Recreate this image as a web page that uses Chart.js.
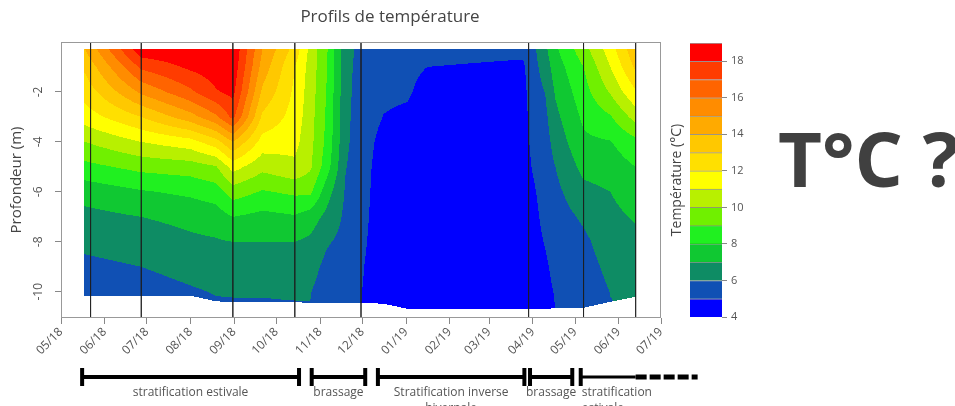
<!DOCTYPE html>
<html lang="fr">
<head>
<meta charset="utf-8">
<script src="https://cdn.jsdelivr.net/npm/chart.js@4.4.1/dist/chart.umd.min.js"></script>
<style>
  body { margin: 0; width: 955px; height: 406px; overflow: hidden; position: relative; background: #fff; }
  #graphique { position: absolute; left: 0; top: 0; }
  #echelle { position: absolute; left: 640px; top: 0; }
  #question { position: absolute; left: 778px; top: 120px; font: bold 76px 'Open Sans', sans-serif; color: #404040; line-height: 1; white-space: nowrap; }
</style>
</head>
<body>
<canvas id="graphique" width="780" height="406"></canvas>
<canvas id="echelle" width="140" height="406"></canvas>
<div id="question">T°C ?</div>
<script>
// axe des mois
const etiquettesMois = ['05/18', '06/18', '07/18', '08/18', '09/18', '10/18', '11/18', '12/18',
                        '01/19', '02/19', '03/19', '04/19', '05/19', '06/19', '07/19'];
const graduationsProfondeur = [-2, -4, -6, -8, -10];

// profondeurs des mesures (m)
const profondeurs = [0.3, 1, 2, 3, 4, 5, 6, 7, 8, 9, 10, 10.7];

// dates des profils
const datesProfils = ['2018-05-18', '2018-06-27', '2018-08-01', '2018-08-19', '2018-08-31', '2018-09-21',
                      '2018-10-14', '2018-10-25', '2018-11-06', '2018-11-19', '2018-11-30', '2018-12-16',
                      '2019-01-02', '2019-01-16', '2019-03-25', '2019-03-31', '2019-04-10', '2019-04-17',
                      '2019-05-07', '2019-05-26', '2019-06-13'];

// températures (°C) par profil, de la surface vers le fond
const p180518 = [14.0, 13.2, 12.4, 11.5, 10.0, 8.7, 7.4, 6.7, 6.2, 5.8, 5.5, 5.3];
const p180627 = [18.7, 17.2, 15.2, 13.0, 11.0, 9.3, 7.9, 7.0, 6.4, 6.0, 5.6, 5.4];
const p180801 = [18.8, 18.2, 16.8, 14.6, 11.6, 9.5, 8.2, 7.3, 6.8, 6.3, 5.9, 5.7];
const p180819 = [18.9, 18.6, 17.9, 15.8, 12.6, 9.9, 8.5, 7.5, 6.9, 6.4, 6.05, 5.85];
const p180831 = [18.9, 18.7, 18.3, 17.3, 14.0, 11.4, 9.5, 8.0, 7.0, 6.5, 6.05, 5.9];
const p180921 = [15.0, 14.6, 13.8, 12.8, 11.6, 10.3, 8.9, 7.7, 7.0, 6.5, 6.05, 5.9];
const p181014 = [12.6, 12.0, 11.8, 11.6, 11.3, 10.8, 9.2, 7.9, 7.0, 6.6, 6.1, 5.9];
const p181025 = [10.7, 10.6, 10.5, 10.4, 10.3, 10.15, 9.2, 7.5, 6.8, 6.4, 6.05, 5.95];
const p181106 = [9.05, 9.0, 8.9, 8.8, 8.7, 8.4, 7.4, 6.7, 6.1, 5.7, 5.4, 5.3];
const p181119 = [6.4, 6.35, 6.3, 6.25, 6.2, 6.05, 5.9, 5.8, 5.7, 5.6, 5.5, 5.4];
const p181130 = [5.7, 5.6, 5.55, 5.5, 5.45, 5.4, 5.35, 5.3, 5.2, 5.1, 5.03, 5.0];
const p181216 = [5.3, 5.25, 5.15, 4.98, 4.7, 4.55, 4.5, 4.45, 4.45, 4.4, 4.4, 4.4];
const p190102 = [5.3, 5.2, 5.1, 4.85, 4.6, 4.5, 4.45, 4.4, 4.4, 4.4, 4.35, 4.35];
const p190116 = [5.3, 5.0, 4.7, 4.55, 4.5, 4.45, 4.4, 4.4, 4.35, 4.35, 4.3, 4.3];
const p190325 = [5.2, 4.85, 4.7, 4.6, 4.55, 4.5, 4.45, 4.4, 4.4, 4.4, 4.35, 4.35];
const p190331 = [5.6, 5.5, 5.4, 5.3, 5.15, 5.0, 4.85, 4.75, 4.7, 4.65, 4.6, 4.6];
const p190410 = [6.8, 6.5, 6.05, 5.8, 5.6, 5.45, 5.3, 5.2, 5.05, 4.9, 4.8, 4.75];
const p190417 = [7.8, 7.5, 7.1, 6.75, 6.4, 6.0, 5.75, 5.55, 5.35, 5.2, 5.05, 5.0];
const p190507 = [9.6, 9.0, 8.6, 8.2, 7.8, 7.3, 6.7, 6.15, 5.8, 5.6, 5.4, 5.3];
const p190526 = [11.5, 11.0, 10.1, 8.9, 7.95, 7.5, 7.0, 6.75, 6.5, 6.25, 6.02, 5.95];
const p190613 = [13.8, 13.2, 11.9, 10.4, 8.7, 8.0, 7.5, 7.1, 6.75, 6.45, 6.15, 6.1];
const profils = [p180518, p180627, p180801, p180819, p180831, p180921, p181014, p181025, p181106,
                 p181119, p181130, p181216, p190102, p190116, p190325, p190331, p190410, p190417,
                 p190507, p190526, p190613];

// profondeur du fond à chaque profil (m)
const fonds = [10.16, 10.16, 10.16, 10.38, 10.42, 10.42, 10.42, 10.44, 10.44, 10.44, 10.44, 10.48,
               10.68, 10.68, 10.68, 10.68, 10.68, 10.66, 10.64, 10.4, 10.2];

// traits verticaux des campagnes de mesure
const datesCampagnes = ['2018-05-22', '2018-06-27', '2018-08-31', '2018-10-14', '2018-11-30',
                        '2019-03-29', '2019-05-07', '2019-06-13'];

// échelle de couleur
const niveaux = [4, 5, 6, 7, 8, 9, 10, 11, 12, 13, 14, 15, 16, 17, 18, 19];
const graduationsCouleur = [4, 6, 8, 10, 12, 14, 16, 18];
const couleurs = ['#0000ff', '#1050b4', '#0e8c64', '#10c832', '#20f020', '#70f000', '#b8f000', '#ffff00',
                  '#ffe000', '#ffc800', '#ffaa00', '#ff8c00', '#ff6400', '#ff3c00', '#ff0000'];

// périodes sous le graphique
const periodes = [['stratification estivale'], ['brassage'], ['Stratification inverse', 'hivernale'],
                  ['brassage'], ['stratification', 'estivale']];
const debutsPeriodes = ['2018-05-16', '2018-10-26', '2018-12-12', '2019-03-30', '2019-05-05'];
const finsPeriodes = ['2018-10-17', '2018-12-03', '2019-03-26', '2019-04-29', '2019-06-13'];
const suitePeriode = '2019-07-27';

const origine = Date.UTC(2018, 4, 1);
function jour(s) {
    const [a, m, j] = s.split('-').map(Number);
    return (Date.UTC(a, m - 1, j) - origine) / 86400000;
}
const debutsMois = etiquettesMois.map(e => jour('20' + e.slice(3) + '-' + e.slice(0, 2) + '-01'));
const joursProfils = datesProfils.map(jour);
const rgbCouleurs = couleurs.map(c => [1, 3, 5].map(k => parseInt(c.slice(k, k + 2), 16)));

const gris = '#555';
const police = "'Open Sans', 'Liberation Sans', sans-serif";

function classe(t) {
    let n = 0;
    while (n < couleurs.length - 1 && t >= niveaux[n + 1]) n++;
    return n;
}

const pluginContour = {
    id: 'contour',
    beforeDatasetsDraw(chart) {
        const {ctx, scales: {x, y}} = chart;
        const J = joursProfils;
        const xa = Math.floor(x.getPixelForValue(J[0]));
        const xb = Math.ceil(x.getPixelForValue(J[J.length - 1]));
        const ya = Math.floor(y.getPixelForValue(-profondeurs[0]));
        const yb = Math.ceil(y.getPixelForValue(-Math.max(...fonds)));
        const w = xb - xa, h = yb - ya;
        const img = ctx.createImageData(w, h);
        for (let c = 0; c < w; c++) {
            const j = x.getValueForPixel(xa + c + 0.5);
            let i = 0;
            while (i < J.length - 2 && j > J[i + 1]) i++;
            const t = Math.min(1, Math.max(0, (j - J[i]) / (J[i + 1] - J[i])));
            const fond = fonds[i] + (fonds[i + 1] - fonds[i]) * t;
            const A = profils[i], B = profils[i + 1];
            for (let r = 0; r < h; r++) {
                const p = -y.getValueForPixel(ya + r + 0.5);
                if (p < profondeurs[0] || p > fond) continue;
                let k = 0;
                while (k < profondeurs.length - 2 && p > profondeurs[k + 1]) k++;
                const u = Math.min(1, (p - profondeurs[k]) / (profondeurs[k + 1] - profondeurs[k]));
                const T = (A[k] * (1 - u) + A[k + 1] * u) * (1 - t) + (B[k] * (1 - u) + B[k + 1] * u) * t;
                const rgb = rgbCouleurs[classe(T)];
                const o = (r * w + c) * 4;
                img.data[o] = rgb[0];
                img.data[o + 1] = rgb[1];
                img.data[o + 2] = rgb[2];
                img.data[o + 3] = 255;
            }
        }
        const tampon = document.createElement('canvas');
        tampon.width = w;
        tampon.height = h;
        tampon.getContext('2d').putImageData(img, 0, 0);
        ctx.drawImage(tampon, xa, ya);
    },
    afterDatasetsDraw(chart) {
        const {ctx, chartArea: a} = chart;
        ctx.save();
        ctx.strokeStyle = '#999';
        ctx.lineWidth = 1;
        ctx.strokeRect(a.left + 0.5, a.top + 0.5, a.width - 1, a.height - 1);
        ctx.restore();
    },
    afterDraw(chart) {
        const {ctx, scales: {x, y}} = chart;
        ctx.save();
        // étiquettes de profondeur, verticales comme dans R
        ctx.fillStyle = gris;
        ctx.font = '12px ' + police;
        ctx.textAlign = 'center';
        ctx.textBaseline = 'middle';
        graduationsProfondeur.forEach(v => {
            ctx.save();
            ctx.translate(39, y.getPixelForValue(v));
            ctx.rotate(-Math.PI / 2);
            ctx.fillText(String(v), 0, 0);
            ctx.restore();
        });
        // frise des périodes
        const yf = 377;
        ctx.fillStyle = '#000';
        ctx.strokeStyle = '#000';
        periodes.forEach((lignes, i) => {
            const x1 = x.getPixelForValue(jour(debutsPeriodes[i]));
            const x2 = x.getPixelForValue(jour(finsPeriodes[i]));
            const dernier = i === periodes.length - 1;
            ctx.lineWidth = dernier ? 3 : 4;
            ctx.setLineDash([]);
            ctx.beginPath();
            ctx.moveTo(x1, yf);
            ctx.lineTo(x2, yf);
            ctx.stroke();
            ctx.fillRect(x1 - 2, yf - 9, 4, 18);
            if (!dernier) {
                ctx.fillRect(x2 - 2, yf - 9, 4, 18);
            } else {
                ctx.lineWidth = 5;
                ctx.setLineDash([11, 3]);
                ctx.beginPath();
                ctx.moveTo(x2, yf);
                ctx.lineTo(x.getPixelForValue(jour(suitePeriode)), yf);
                ctx.stroke();
            }
            ctx.setLineDash([]);
            ctx.font = '12px ' + police;
            ctx.fillStyle = gris;
            ctx.textAlign = dernier ? 'left' : 'center';
            const xt = dernier ? x1 + 1 : (x1 + x2) / 2;
            lignes.forEach((l, n) => ctx.fillText(l, xt, 393 + n * 16));
            ctx.fillStyle = '#000';
        });
        ctx.restore();
    }
};

new Chart(document.getElementById('graphique'), {
    type: 'scatter',
    data: {
        datasets: datesCampagnes.map(d => ({
            data: [{x: jour(d), y: 0}, {x: jour(d), y: -11.05}],
            showLine: true,
            borderColor: 'rgba(30,30,30,0.7)',
            borderWidth: 1,
            pointRadius: 0
        }))
    },
    options: {
        responsive: false,
        animation: false,
        events: [],
        layout: {padding: 0},
        scales: {
            x: {
                type: 'linear',
                min: 0,
                max: jour('2019-07-01'),
                afterBuildTicks: s => { s.ticks = debutsMois.map(v => ({value: v})); },
                afterFit: s => { s.height = 88; },
                border: {display: false},
                grid: {drawOnChartArea: false, tickLength: 6, color: '#888'},
                ticks: {
                    autoSkip: false,
                    minRotation: 45,
                    maxRotation: 45,
                    padding: 1,
                    color: gris,
                    font: {family: police, size: 12},
                    callback: (v, i) => etiquettesMois[i]
                }
            },
            y: {
                type: 'linear',
                min: -11.05,
                max: 0,
                afterBuildTicks: s => { s.ticks = graduationsProfondeur.map(v => ({value: v})); },
                afterFit: s => { s.width = 61; },
                border: {display: false},
                grid: {drawOnChartArea: false, tickLength: 6, color: '#888'},
                ticks: {display: false},
                title: {
                    display: true,
                    text: 'Profondeur (m)',
                    color: '#444',
                    font: {family: police, size: 15},
                    padding: {top: 8, bottom: 0}
                }
            },
            yDroite: {
                position: 'right',
                afterFit: s => { s.width = 119; },
                border: {display: false},
                grid: {display: false},
                ticks: {display: false}
            }
        },
        plugins: {
            legend: {display: false},
            tooltip: {enabled: false},
            title: {
                display: true,
                text: 'Profils de température',
                color: '#444',
                font: {family: police, size: 17, weight: 'normal'},
                padding: {top: 7, bottom: 14.6}
            }
        }
    },
    plugins: [pluginContour]
});

new Chart(document.getElementById('echelle'), {
    type: 'bar',
    data: {
        labels: [''],
        datasets: couleurs.map((c, i) => ({
            data: [[niveaux[i], niveaux[i + 1]]],
            backgroundColor: c,
            borderColor: 'rgba(40,40,40,0.45)',
            borderWidth: {top: 1, right: 0, bottom: 0, left: 0},
            borderSkipped: false,
            barPercentage: 1,
            categoryPercentage: 1,
            grouped: false,
            yAxisID: 'y'
        }))
    },
    options: {
        responsive: false,
        animation: false,
        events: [],
        layout: {padding: {top: 43, bottom: 89, left: 0, right: 0}},
        scales: {
            x: {display: false},
            y: {
                position: 'right',
                min: niveaux[0],
                max: niveaux[niveaux.length - 1],
                afterBuildTicks: s => { s.ticks = graduationsCouleur.map(v => ({value: v})); },
                afterFit: s => { s.width = 58; },
                border: {display: false},
                grid: {drawOnChartArea: false, tickLength: 5, color: '#888'},
                ticks: {color: gris, padding: 4, font: {family: police, size: 11}}
            },
            yTitre: {
                position: 'left',
                min: niveaux[0],
                max: niveaux[niveaux.length - 1],
                afterFit: s => { s.width = 50; },
                border: {display: false},
                grid: {display: false},
                ticks: {display: false},
                title: {
                    display: true,
                    text: 'Température (°C)',
                    color: '#444',
                    font: {family: police, size: 14},
                    padding: {top: 28.6, bottom: 0}
                }
            }
        },
        plugins: {legend: {display: false}, tooltip: {enabled: false}}
    }
});
</script>
</body>
</html>
